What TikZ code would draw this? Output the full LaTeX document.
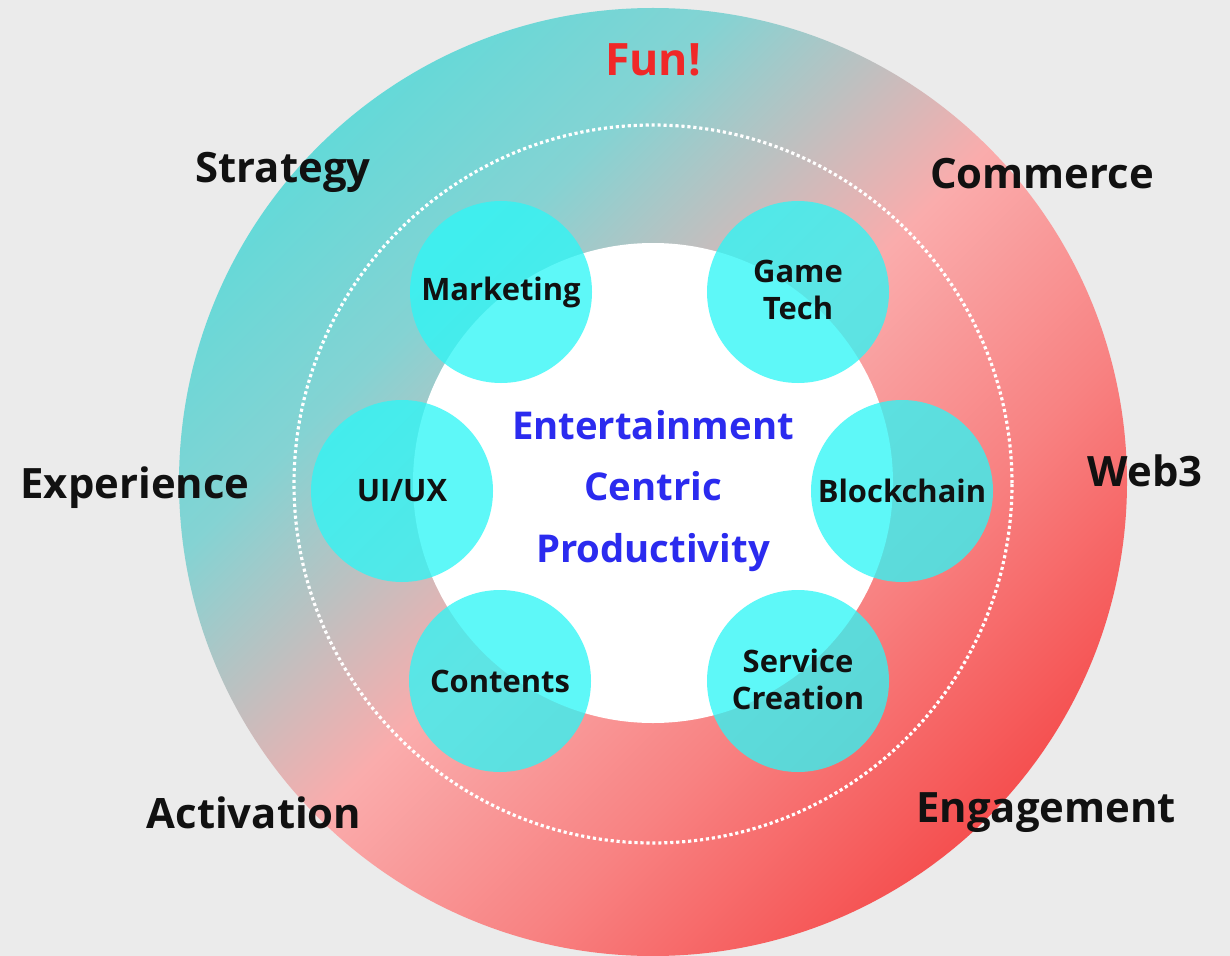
\documentclass[tikz,border=0pt]{standalone}
\usepackage{fontspec}
\setmainfont{Open Sans}
\usetikzlibrary{backgrounds}
\definecolor{bggray}{RGB}{235,235,235}
\definecolor{tealA}{RGB}{100,217,216}
\definecolor{tealB}{RGB}{132,211,211}
\definecolor{grayC}{RGB}{190,192,192}
\definecolor{pinkD}{RGB}{250,172,172}
\definecolor{redE}{RGB}{248,130,130}
\definecolor{redF}{RGB}{245,80,80}
\definecolor{cyanfill}{RGB}{46,246,246}
\definecolor{funred}{RGB}{240,40,40}
\definecolor{ecblue}{RGB}{43,43,239}
\definecolor{labelblack}{RGB}{17,17,17}
\pgfdeclarehorizontalshading{ringshade}{100bp}{%
  color(0bp)=(tealA); color(25bp)=(tealA); color(35bp)=(tealB);
  color(42.5bp)=(grayC); color(50bp)=(pinkD); color(62.5bp)=(redE);
  color(75bp)=(redF); color(100bp)=(redF)}
\tikzset{
  outerlabel/.style={font=\fontsize{23.8}{28}\selectfont\bfseries, text=labelblack, inner sep=0pt},
  smalllabel/.style={font=\fontsize{17.6}{21}\selectfont\bfseries, text=labelblack, align=center, inner sep=0pt},
  centerlabel/.style={font=\fontsize{21.8}{35.2}\selectfont\bfseries, text=ecblue, align=center, inner sep=0pt},
  bubble/.style={circle, fill=cyanfill, fill opacity=0.77, minimum size=182*0.02cm, inner sep=0pt},
}
\begin{document}
\begin{tikzpicture}[x=0.02cm, y=-0.02cm]
  \fill[bggray] (0,0) rectangle (1230,956);
  \useasboundingbox (0,0) rectangle (1230,956);
  \begin{scope}
    \clip (0,0) rectangle (1230,956);
    \shade[shading=ringshade, shading angle=-45] (653,482) circle[radius=474];
  \end{scope}
  \draw[white, line width=1.8pt, dash pattern=on 1.8pt off 1.6pt] (653,484) circle[radius=359];
  \fill[white] (653,483) circle[radius=240];
  % bubbles
  \node[bubble] (mkt) at (501,292) {};
  \node[bubble] (gt) at (798,292) {};
  \node[bubble] (ui) at (402,491) {};
  \node[bubble] (bc) at (902,491) {};
  \node[bubble] (ct) at (500,681) {};
  \node[bubble] (sc) at (798,681) {};
  \node[smalllabel] at ([yshift=1pt]gt) {Game\\Tech};
  \node[smalllabel] at (mkt) {Marketing};
  \node[smalllabel] at (ui) {UI/UX};
  \node[smalllabel] at (bc) {Blockchain};
  \node[smalllabel] at (ct) {Contents};
  \node[smalllabel] at ([yshift=1pt]sc) {Service\\Creation};
  % center
  \node[centerlabel] (center) at (653,491) {Entertainment\\Centric\\Productivity};
  % outer labels
  \node[outerlabel, text=funred, font=\fontsize{25.4}{28}\selectfont\bfseries] (fun) at (653,60) {Fun!};
  \node[outerlabel] (strategy) at (283,172) {Strategy};
  \node[outerlabel] (commerce) at (1042,174) {Commerce};
  \node[outerlabel] (experience) at (135,488) {Experience};
  \node[outerlabel] (web3) at (1145,471) {Web3};
  \node[outerlabel] (activation) at (254,813) {Activation};
  \node[outerlabel] (engagement) at (1046,813) {Engagement};
\end{tikzpicture}
\end{document}
